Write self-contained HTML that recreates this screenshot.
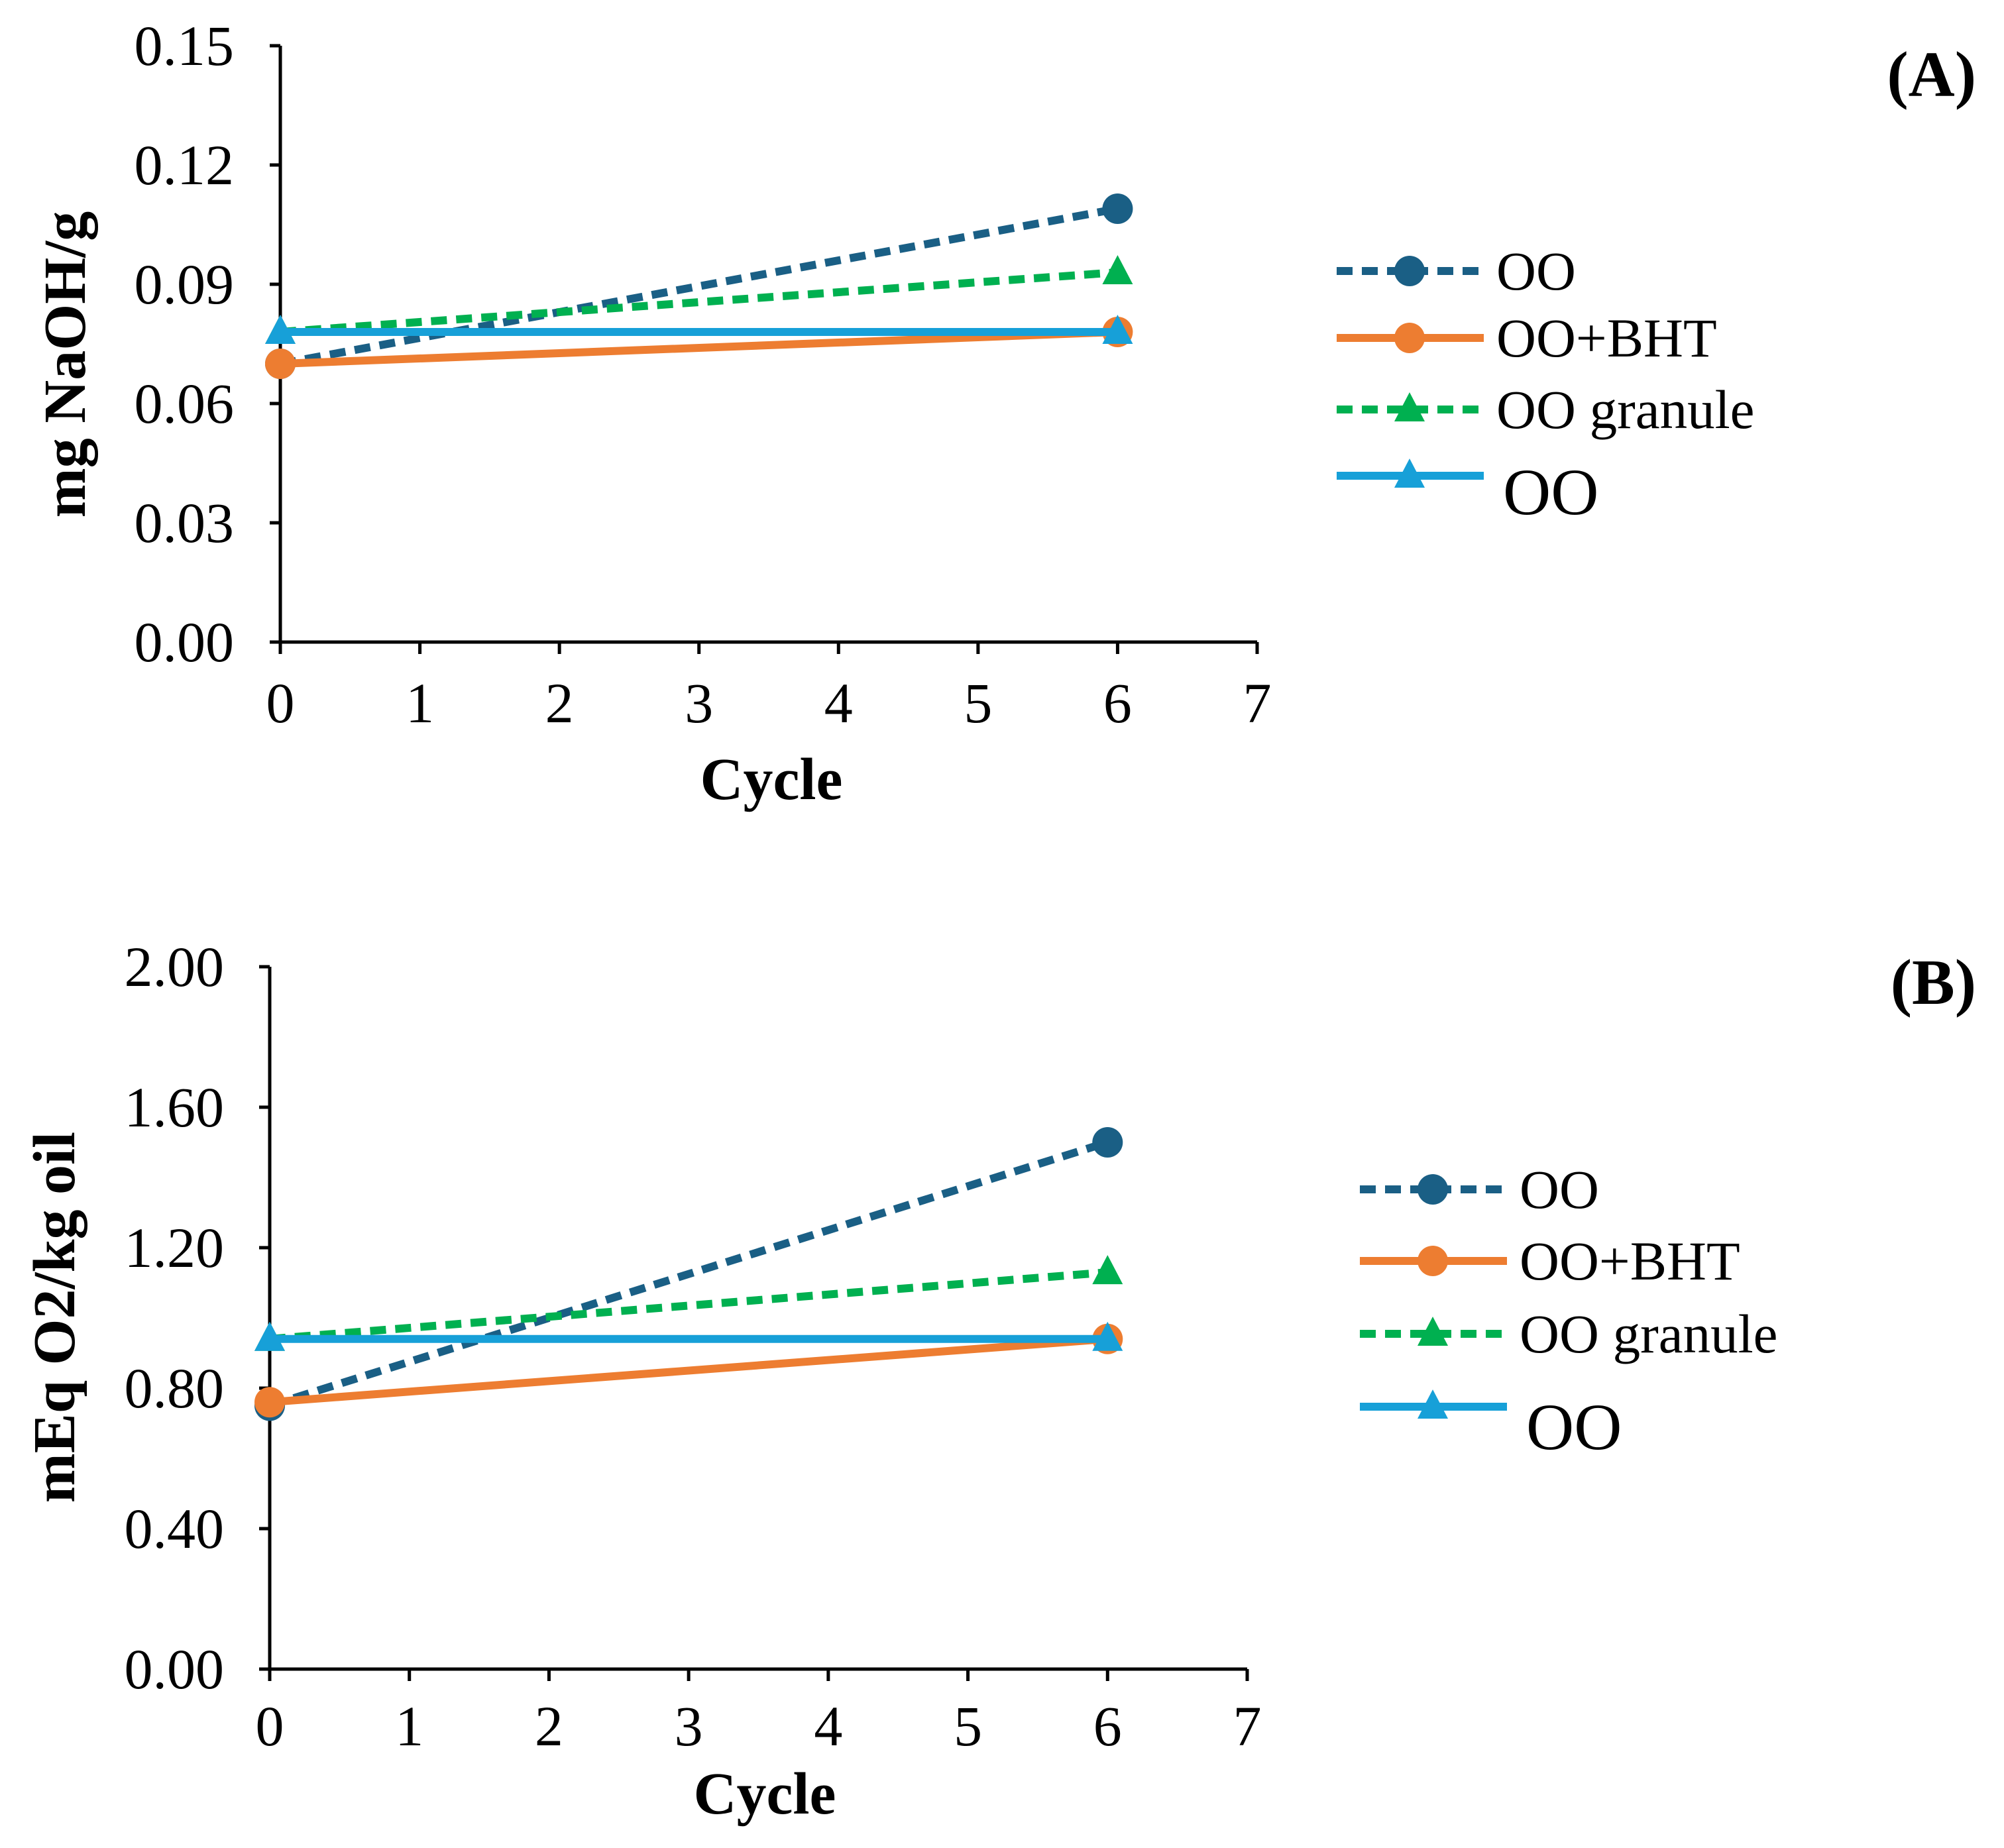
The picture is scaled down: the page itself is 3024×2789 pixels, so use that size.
<!DOCTYPE html>
<html><head><meta charset="utf-8"><style>body{margin:0;background:#fff}svg{display:block}</style></head>
<body>
<svg id="c" width="3024" height="2789" xmlns="http://www.w3.org/2000/svg" font-family="Liberation Serif, serif"></svg>
<script>
const cycles = [0, 6];
const aOO = [0.070, 0.109];
const aBHT = [0.070, 0.078];
const aGran = [0.078, 0.093];
const aPlain = [0.078, 0.078];
const bOO = [0.75, 1.50];
const bBHT = [0.76, 0.94];
const bGran = [0.94, 1.13];
const bPlain = [0.94, 0.94];
const aTicks = ["0.00","0.03","0.06","0.09","0.12","0.15"];
const bTicks = ["0.00","0.40","0.80","1.20","1.60","2.00"];
const xTicks = [0,1,2,3,4,5,6,7];
const legendLabels = ["OO","OO+BHT","OO granule","OO"];

const svg = document.getElementById('c');
const NS = 'http://www.w3.org/2000/svg';
function mk(tag, attrs, parent){const e=document.createElementNS(NS,tag);for(const k in attrs)e.setAttribute(k,attrs[k]);(parent||svg).appendChild(e);return e;}
const styles = [
 {color:'#1a5f85', dash:'24,14', marker:'circle'},
 {color:'#ed7d31', dash:'', marker:'circle'},
 {color:'#00b050', dash:'24,14', marker:'tri'},
 {color:'#17a0d8', dash:'', marker:'tri'}
];
function marker(g, type, x, y, color){
  let m;
  if(type==='circle') m=mk('circle',{cx:x,cy:y,r:23,fill:color},g);
  else m=mk('polygon',{points:`${x},${y-26} ${x-23},${y+18} ${x+23},${y+18}`,fill:color},g);
  
  
}
function chart(cfg){
  const g=mk('g',{});
  
  
  const xs=v=>cfg.x0+(cfg.x7-cfg.x0)*v/7;
  const ymax=parseFloat(cfg.ticks[cfg.ticks.length-1]);
  const ys=v=>cfg.yb-(cfg.yb-cfg.yt)*v/ymax;
  const ax=mk('path',{d:`M${cfg.x0},${cfg.yt} V${cfg.yb} H${cfg.x7}`,stroke:'#000','stroke-width':5,fill:'none'},g);
  
  cfg.ticks.forEach(t=>{const y=ys(parseFloat(t));
    mk('line',{x1:cfg.x0-16,x2:cfg.x0,y1:y,y2:y,stroke:'#000','stroke-width':5},g);
    const tx=mk('text',{x:cfg.ylr,y:y+29,'font-size':86,'text-anchor':'end'},g);tx.textContent=t;
    });
  xTicks.forEach(t=>{const x=xs(t);
    mk('line',{x1:x,x2:x,y1:cfg.yb,y2:cfg.yb+18,stroke:'#000','stroke-width':5},g);
    const tx=mk('text',{x:x,y:cfg.xlab,'font-size':86,'text-anchor':'middle'},g);tx.textContent=t;
    });
  const xt=mk('text',{x:cfg.cx,y:cfg.cy,'font-size':90,'font-weight':'bold','text-anchor':'middle'},g);xt.textContent='Cycle';
  
  const yt=mk('text',{x:0,y:0,'font-size':90,'font-weight':'bold','text-anchor':'middle',transform:`translate(${cfg.ytx},${cfg.yty}) rotate(-90)`},g);yt.textContent=cfg.ytitle;
  
  const pl=mk('text',{x:2982,y:cfg.panelY,'font-size':97,'font-weight':'bold','text-anchor':'end'},g);pl.textContent=cfg.panel;
  
  cfg.series.forEach((s,i)=>{const st=styles[i];
    const sg=mk('g',{},g);
    const pts=s.map((v,j)=>xs(cycles[j])+','+ys(v)).join(' ');
    mk('polyline',{points:pts,stroke:st.color,'stroke-width':12,fill:'none','stroke-dasharray':st.dash},sg);
    s.forEach((v,j)=>marker(sg,st.marker,xs(cycles[j]),ys(v),st.color));});
  const lg=mk('g',{},g);
  legendLabels.forEach((l,i)=>{const st=styles[i];const y=cfg.legY[i];
    const eg=mk('g',{},lg);
    mk('line',{x1:cfg.legX,x2:cfg.legX+222,y1:y,y2:y,stroke:st.color,'stroke-width':12,'stroke-dasharray':st.dash},eg);
    marker(eg,st.marker,cfg.legX+110,y,st.color);
    const last=i===3;
    const t=mk('text',{x:cfg.legX+(last?251:241),y:last?cfg.lastY:y+28,'font-size':last?100:83},eg);t.textContent=l;});
}
chart({name:'chart-a',x0:423,x7:1897,yt:69,yb:969,ticks:aTicks,ylr:353,xlab:1090,cx:1164,cy:1206,ytx:128,yty:550,ytitle:'mg NaOH/g',panel:'(A)',panelY:145,
  series:[aOO,aBHT,aGran,aPlain],legX:2017,legY:[409,510,618,718],lastY:776});
chart({name:'chart-b',x0:407,x7:1882,yt:1459,yb:2519,ticks:bTicks,ylr:338,xlab:2634,cx:1154,cy:2737,ytx:112,yty:1988,ytitle:'mEq O2/kg oil',panel:'(B)',panelY:1515,
  series:[bOO,bBHT,bGran,bPlain],legX:2052,legY:[1795,1903,2013,2123],lastY:2187});
</script>
</body></html>
